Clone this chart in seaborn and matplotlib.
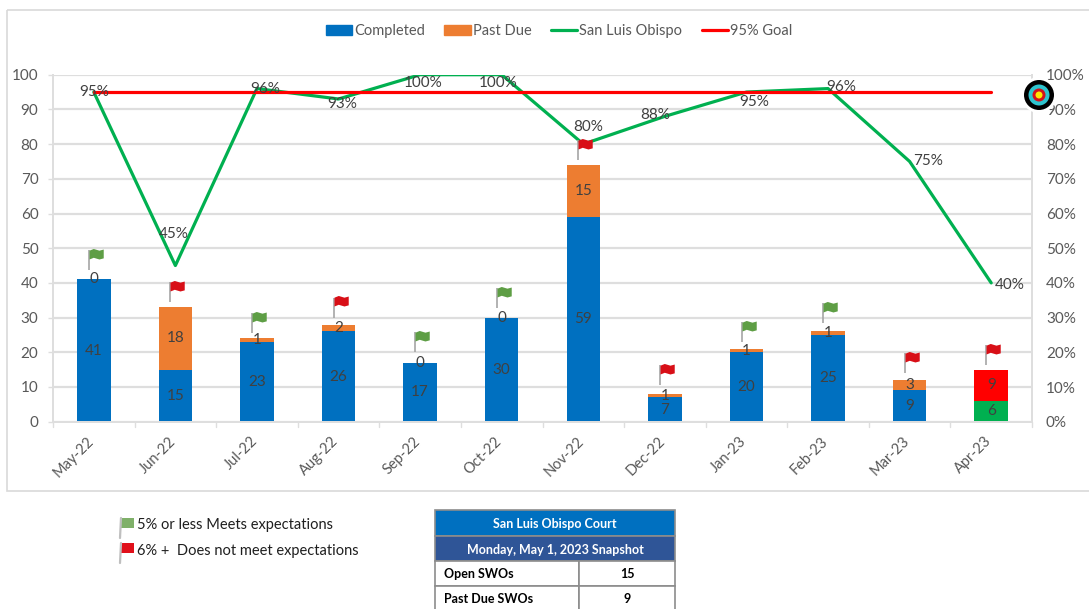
import numpy as np
import pandas as pd
import matplotlib
matplotlib.use('Agg')
import matplotlib.pyplot as plt
import seaborn as sns
from matplotlib.lines import Line2D
from matplotlib.patches import Patch, Rectangle, Circle
from matplotlib.path import Path
from matplotlib.transforms import ScaledTranslation

months = ['May-22', 'Jun-22', 'Jul-22', 'Aug-22', 'Sep-22', 'Oct-22',
          'Nov-22', 'Dec-22', 'Jan-23', 'Feb-23', 'Mar-23', 'Apr-23']
completed = [41, 15, 23, 26, 17, 30, 59, 7, 20, 25, 9, 6]
past_due = [0, 18, 1, 2, 0, 0, 15, 1, 1, 1, 3, 9]
san_luis = [95, 45, 96, 93, 100, 100, 80, 88, 95, 96, 75, 40]
goal = [95] * 12
flag_status = ['g', 'r', 'g', 'r', 'g', 'g', 'r', 'r', 'g', 'g', 'r', 'r']
flag_base = [43.7, 34.5, 25.5, 30, 20, 32.7, 75.5, 10.5, 23, 28.5, 14, 16.3]

table_title = 'San Luis Obispo Court'
table_date = 'Monday, May 1, 2023 Snapshot'
table_labels = ['Open SWOs', 'Past Due SWOs']
table_values = [15, 9]

BLUE = '#0070C0'
ORANGE = '#ED7D31'
GREEN = '#00B050'
RED = '#FF0000'
GRID = '#DEDEDE'
TEXT = '#595959'
DARK = '#404040'

sns.set_style('white')
plt.rcParams['font.family'] = ['Lato', 'DejaVu Sans']

df = pd.DataFrame({'month': months, 'completed': completed, 'past_due': past_due})
df['total'] = df['completed'] + df['past_due']
pos = np.arange(len(months))

W, H = 1089, 609
fig = plt.figure(figsize=(W / 100, H / 100), dpi=100)
ax = fig.add_axes([53 / W, 1 - 421.7 / H, (1032 - 53) / W, (421.7 - 74.7) / H])
ax2 = ax.twinx()

# stack: total bar behind, completed bar in front. last month has its own colours
low_colors = [BLUE] * 11 + [GREEN]
high_colors = [ORANGE] * 11 + [RED]
sns.barplot(data=df, x='month', y='total', hue='month', palette=high_colors,
            legend=False, width=0.41, saturation=1, linewidth=0, ax=ax, zorder=2)
sns.barplot(data=df, x='month', y='completed', hue='month', palette=low_colors,
            legend=False, width=0.41, saturation=1, linewidth=0, ax=ax, zorder=2)

ax.set_xlim(-0.5, 11.5)
ax.set_ylim(0, 100)
ax.set_yticks(range(0, 101, 10))
ax.yaxis.grid(True, color=GRID, lw=1.6)
ax.set_axisbelow(True)
ax.set_xlabel('')
ax.set_ylabel('')
ax.set_xticks(pos)
ax.set_xticklabels(months, rotation=45, ha='right', color=TEXT, fontsize=10.5)
ax.tick_params(axis='x', length=0, pad=9)
ax.tick_params(axis='y', length=3.5, width=1, color=GRID, labelcolor=TEXT, labelsize=11, pad=7, left=True)
nudge = ScaledTranslation(3 / 100, 0, fig.dpi_scale_trans)
for label in ax.get_xticklabels():
    label.set_transform(label.get_transform() + nudge)
for edge in np.arange(-0.5, 12):
    ax.plot([edge, edge], [0, -1.6], color=GRID, lw=1, clip_on=False)

sns.lineplot(x=pos, y=san_luis, color=GREEN, lw=2.3, sort=False, ax=ax2, zorder=3)
sns.lineplot(x=pos, y=goal, color=RED, lw=2.3, sort=False, ax=ax2, zorder=4)
ax2.set_ylim(0, 100)
ax2.set_yticks(range(0, 101, 10))
ax2.set_yticklabels([f'{v}%' for v in range(0, 101, 10)])
ax2.set_ylabel('')
ax2.tick_params(axis='y', length=0, labelcolor=TEXT, labelsize=11, pad=10, right=True)
for spine_ax in (ax, ax2):
    for name, spine in spine_ax.spines.items():
        spine.set_visible(name in ('left', 'right', 'bottom'))
        spine.set_color(GRID)
        spine.set_linewidth(1.4)

# segment labels
for i in pos:
    ax2.text(i, completed[i] / 2, str(completed[i]), ha='center', va='center',
             color=DARK, fontsize=11, zorder=5)
    if past_due[i] > 0:
        ax2.text(i, completed[i] + past_due[i] / 2, str(past_due[i]), ha='center', va='center',
                 color=DARK, fontsize=11, zorder=5)
    else:
        ax2.text(i, completed[i], '0', ha='center', va='center', color=DARK, fontsize=11, zorder=5)

# percentage labels sit off the line by hand, like in the original
pct_dx = [0, -2, 8, 4, 3, -4, 5, -10, 8, 13, 18, 19]
pct_dy = [0, 9, 0, -1.5, -2.5, -2.5, 5, 0.5, -3, 0.5, 0, -0.5]
for i in pos:
    ax2.text(i + pct_dx[i] / 81.6, san_luis[i] + pct_dy[i], f'{san_luis[i]}%', ha='center', va='center',
             color=DARK, fontsize=11, zorder=5)

# flag markers
pole = Path([(0, 0), (0, 1)], [Path.MOVETO, Path.LINETO])
cloth = Path([(0, 0), (0.3, 0.12), (0.7, 0.0), (1, 0.08), (1, 0.7), (0.7, 0.62), (0.3, 0.74), (0, 0.62), (0, 0)],
             [Path.MOVETO] + [Path.LINETO] * 7 + [Path.CLOSEPOLY])
flag_colors = {'g': '#5E9E45', 'r': '#D80F17'}
for i in pos:
    ax2.plot(i - 0.06, flag_base[i], marker=pole, ms=29, color='#A6A6A6', mew=1.2, zorder=6, clip_on=False)
    ax2.scatter(i - 0.06, flag_base[i] + 3.2, marker=cloth, s=420, color=flag_colors[flag_status[i]],
                linewidths=0, zorder=6, clip_on=False)

fig.legend(handles=[Patch(color=BLUE, label='Completed'), Patch(color=ORANGE, label='Past Due'),
                    Line2D([], [], color=GREEN, lw=2.3, label='San Luis Obispo'),
                    Line2D([], [], color=RED, lw=2.3, label='95% Goal')],
           loc='center', bbox_to_anchor=(559 / W, 1 - 31 / H), ncol=4, frameon=False,
           fontsize=10.5, labelcolor=TEXT, handlelength=1.8, handleheight=0.75,
           columnspacing=1.32, handletextpad=0.15)

# pixel overlay for the frame, target, key and snapshot table
over = fig.add_axes([0, 0, 1, 1], zorder=10)
over.set_xlim(0, W)
over.set_ylim(H, 0)
over.axis('off')
over.patch.set_alpha(0)
over.add_patch(Rectangle((6.5, 9.5), W, 481.5, fill=False, ec='#D9D9D9', lw=1.2))

for r, c in zip([18, 15, 10.5, 6.5, 3.5], ['white', 'black', '#2EC4CF', '#D3121C', '#FFE600']):
    over.add_patch(Circle((1039, 95), r, color=c, lw=0))


def key_flag(x, y, color):
    over.plot([x + 1, x + 2], [y + 20, y], color='#BFBFBF', lw=1.6)
    over.add_patch(Rectangle((x + 1, y), 14, 10, color=color, lw=0))


key_flag(119, 518, '#7FB069')
key_flag(119, 543, '#E0101A')
over.text(137, 525.5, '5% or less Meets expectations', color='#1F1F1F', fontsize=10.5, va='center')
over.text(137, 551, '6% +  Does not meet expectations', color='#1F1F1F', fontsize=10.5, va='center')

TX0, TX1, TX2 = 435, 579, 675
rows = [510, 536, 561, 586, 612]
edge = '#8C8C8C'
over.add_patch(Rectangle((TX0, rows[0]), TX2 - TX0, rows[1] - rows[0], fc=BLUE, ec=edge, lw=1.2))
over.add_patch(Rectangle((TX0, rows[1]), TX2 - TX0, rows[2] - rows[1], fc='#2F5597', ec=edge, lw=1.2))
over.text((TX0 + TX2) / 2, (rows[0] + rows[1]) / 2 + 1, table_title, color='white', fontsize=9, fontweight='bold',
          ha='center', va='center')
over.text((TX0 + TX2) / 2, (rows[1] + rows[2]) / 2 + 1, table_date, color='white', fontsize=9, fontweight='bold',
          ha='center', va='center')
for k, (label, value) in enumerate(zip(table_labels, table_values)):
    top, bot = rows[k + 2], rows[k + 3]
    over.add_patch(Rectangle((TX0, top), TX1 - TX0, bot - top, fc='white', ec=edge, lw=1.2))
    over.add_patch(Rectangle((TX1, top), TX2 - TX1, bot - top, fc='white', ec=edge, lw=1.2))
    over.text(TX0 + 9, (top + bot) / 2, label, color='black', fontsize=9, fontweight='bold', va='center')
    over.text((TX1 + TX2) / 2, (top + bot) / 2, str(value), color='black', fontsize=9, fontweight='bold',
              ha='center', va='center')

fig.savefig('out.png', dpi=100)
